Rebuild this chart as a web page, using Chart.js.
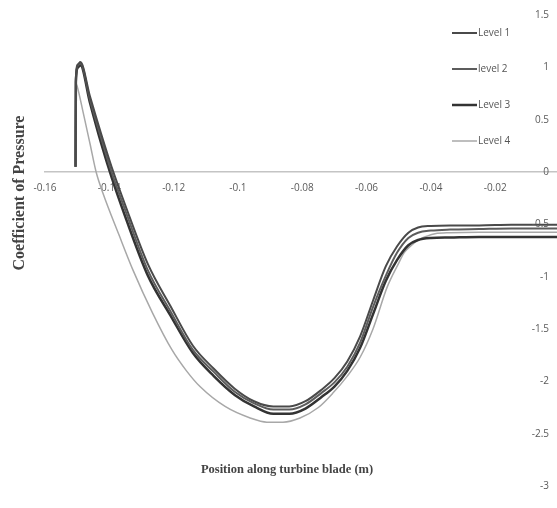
<!DOCTYPE html>
<html>
<head>
<meta charset="utf-8">
<script src="https://cdn.jsdelivr.net/npm/chart.js@4"></script>
<style>
  html, body { margin: 0; padding: 0; background: #fff; overflow: hidden; }
  #wrap { width: 562px; height: 508px; }
</style>
</head>
<body>
<div id="wrap"><canvas id="cpChart" width="562" height="508"></canvas></div>
<script>
// Series names as in the legend
const seriesNames = ["Level 1", "level 2", "Level 3", "Level 4"];

// Axis ticks
const xTicks = [-0.16, -0.14, -0.12, -0.1, -0.08, -0.06, -0.04, -0.02, 0];
const yTicks = [-3, -2.5, -2, -1.5, -1, -0.5, 0, 0.5, 1, 1.5];

// Positions along blade (m), levels 1-3
const posDark = [-0.1505, -0.1504, -0.1497, -0.1490, -0.1460, -0.1425, -0.1393, -0.1350, -0.1280, -0.1210,
    -0.1140, -0.1075, -0.1010, -0.0950, -0.0890, -0.0840, -0.0790, -0.0740, -0.0700, -0.0660,
    -0.0620, -0.0580, -0.0540, -0.0505, -0.0470, -0.0440, -0.0400, -0.0340, -0.0250, -0.0150, -0.0050, 0];

// Coefficient of pressure
const cpLevel1 = [0.05, 0.90, 1.03, 1.05, 0.72, 0.36, 0.05, -0.32, -0.88, -1.28,
    -1.66, -1.88, -2.07, -2.19, -2.24, -2.24, -2.19, -2.08, -1.97, -1.81,
    -1.57, -1.23, -0.90, -0.71, -0.58, -0.53, -0.515, -0.51, -0.51, -0.505, -0.505, -0.505];
const cpLevel2 = [0.05, 0.88, 1.02, 1.04, 0.69, 0.32, 0.0, -0.37, -0.94, -1.33,
    -1.70, -1.91, -2.10, -2.21, -2.27, -2.27, -2.22, -2.11, -2.01, -1.86,
    -1.63, -1.29, -0.99, -0.77, -0.63, -0.58, -0.56, -0.55, -0.545, -0.54, -0.54, -0.54];
const cpLevel3 = [0.05, 0.86, 1.00, 1.02, 0.66, 0.27, -0.05, -0.43, -0.99, -1.37,
    -1.73, -1.95, -2.13, -2.24, -2.31, -2.31, -2.26, -2.15, -2.05, -1.90,
    -1.68, -1.36, -1.04, -0.84, -0.70, -0.65, -0.63, -0.625, -0.62, -0.62, -0.62, -0.62];

// Level 4 has its own positions
const posLevel4 = [-0.1504, -0.1500, -0.1480, -0.1460, -0.1441, -0.1420, -0.1370, -0.1326, -0.1265, -0.1205,
    -0.1160, -0.1118, -0.1040, -0.0962, -0.0910, -0.0860, -0.0807, -0.0750, -0.0704, -0.0660,
    -0.0620, -0.0580, -0.0536, -0.0500, -0.0483, -0.0460, -0.0440, -0.0410, -0.0387, -0.0340,
    -0.0250, -0.0150, -0.0050, 0];
const cpLevel4 = [0.85, 0.82, 0.55, 0.27, 0.0, -0.20, -0.60, -0.94, -1.35, -1.70,
    -1.90, -2.05, -2.24, -2.35, -2.39, -2.39, -2.35, -2.25, -2.11, -1.95,
    -1.77, -1.50, -1.10, -0.87, -0.77, -0.70, -0.65, -0.61, -0.59, -0.58,
    -0.575, -0.575, -0.575, -0.575];

const toPoints = (xs, ys) => xs.map((x, i) => ({ x: x, y: ys[i] }));

const colors = ['#4a4a4a', '#5c5c5c', '#333333', '#a8a8a8'];
const widths = [2, 2, 2.5, 1.5];
const series = [
    toPoints(posDark, cpLevel1),
    toPoints(posDark, cpLevel2),
    toPoints(posDark, cpLevel3),
    toPoints(posLevel4, cpLevel4)
];

const tickFont = { family: 'Open Sans', size: 10 };
const tickColor = '#5a5a5a';

// legend, y tick labels (inside the plot) and axis titles
const extrasPlugin = {
    id: 'extras',
    afterDraw(chart) {
        const ctx = chart.ctx;
        const yScale = chart.scales.y;
        ctx.save();
        // y labels sit left of the (off-screen) y axis
        ctx.font = '10px "Open Sans"';
        ctx.fillStyle = tickColor;
        ctx.textAlign = 'right';
        ctx.textBaseline = 'middle';
        yTicks.forEach(v => {
            ctx.fillText(String(v), chart.chartArea.right - 10.5, yScale.getPixelForValue(v));
        });
        // legend
        chart.data.datasets.forEach((ds, i) => {
            const y = 33 + i * 36;
            ctx.strokeStyle = ds.borderColor;
            ctx.lineWidth = ds.borderWidth;
            ctx.beginPath();
            ctx.moveTo(452, y);
            ctx.lineTo(477, y);
            ctx.stroke();
            ctx.fillStyle = '#555';
            ctx.font = '10px "Open Sans"';
            ctx.textAlign = 'left';
            ctx.fillText(ds.label, 478, y);
        });
        // titles
        ctx.fillStyle = '#444';
        ctx.font = 'bold 12.5px "Liberation Serif"';
        ctx.textAlign = 'center';
        ctx.fillText('Position along turbine blade (m)', 287, 470);
        ctx.translate(20, 193);
        ctx.rotate(-Math.PI / 2);
        ctx.font = 'bold 16px "Liberation Serif"';
        ctx.fillText('Coefficient of Pressure', 0, 0);
        ctx.restore();
    }
};

new Chart(document.getElementById('cpChart'), {
    type: 'line',
    data: {
        datasets: series.map((pts, i) => ({
            label: seriesNames[i],
            data: pts,
            borderColor: colors[i],
            borderWidth: widths[i],
            pointRadius: 0,
            cubicInterpolationMode: 'monotone',
            fill: false
        }))
    },
    options: {
        responsive: false,
        animation: false,
        layout: { padding: { left: 45, right: 2.5, top: 15, bottom: 22 } },
        plugins: { legend: { display: false }, tooltip: { enabled: false } },
        scales: {
            x: {
                type: 'linear',
                min: -0.16,
                max: 0,
                position: { y: 0 },
                grid: { display: false, drawTicks: false },
                border: { display: true, color: '#c4c4c4', width: 1.5 },
                afterBuildTicks: s => { s.ticks = xTicks.map(v => ({ value: v })); },
                afterFit: s => { s.paddingLeft = 0; s.paddingRight = 0; },
                ticks: {
                    padding: 10,
                    autoSkip: false,
                    maxRotation: 0,
                    font: tickFont,
                    color: tickColor,
                    callback: v => (v === 0 ? '' : String(v))
                }
            },
            y: {
                position: 'right',
                min: -3,
                max: 1.5,
                grid: { display: false, drawTicks: false },
                border: { display: false },
                afterBuildTicks: s => { s.ticks = yTicks.map(v => ({ value: v })); },
                afterFit: s => { s.width = 0; },
                ticks: { display: false }
            }
        }
    },
    plugins: [extrasPlugin]
});
</script>
</body>
</html>
